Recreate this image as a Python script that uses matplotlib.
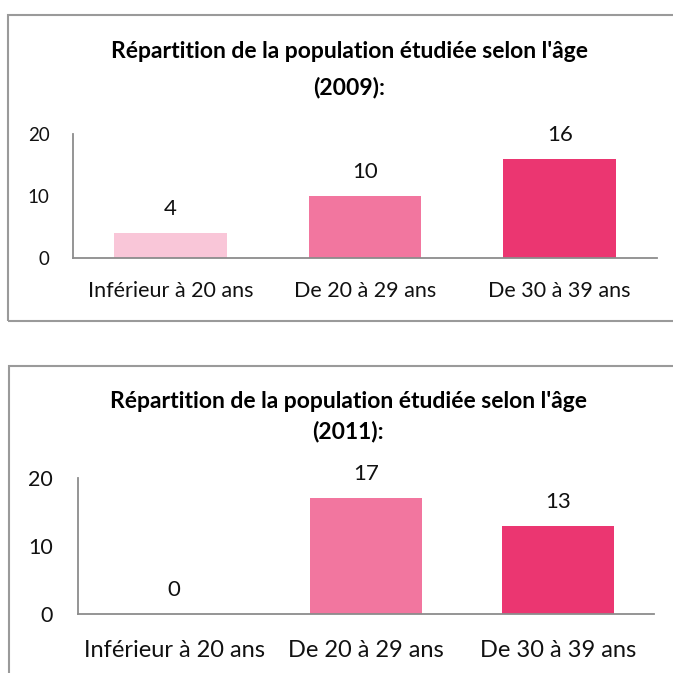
import matplotlib
matplotlib.use("Agg")
import matplotlib.pyplot as plt
from matplotlib.patches import Rectangle

categories = ["Inférieur à 20 ans", "De 20 à 29 ans", "De 30 à 39 ans"]
values_2009 = [4, 10, 16]
values_2011 = [0, 17, 13]
colors = ["#F9C6D8", "#F2769F", "#EB3671"]
titles = ["Répartition de la population étudiée selon l'âge", "(2009):", "(2011):"]
yticks = [0, 10, 20]

W = H = 673
plt.rcParams['font.family'] = ['Lato', 'DejaVu Sans']
fig = plt.figure(figsize=(W / 100, H / 100), dpi=100)


def px_axes(left, top, right, bottom):
    return fig.add_axes([left / W, 1 - bottom / H, (right - left) / W, (bottom - top) / H])


def chart(ax, values, catsize, valsize, ticksize, ypad, xpad):
    x = range(len(categories))
    ax.bar(x, values, width=0.58, color=colors)
    ax.set_xlim(-0.5, len(categories) - 0.5)
    ax.set_ylim(0, 20)
    ax.set_yticks(yticks)
    ax.set_xticks(list(x))
    ax.set_xticklabels(categories, fontsize=catsize, color="#111111")
    ax.tick_params(axis="y", length=0, pad=ypad, labelsize=ticksize, labelcolor="#111111")
    ax.tick_params(axis="x", length=0, pad=xpad)
    for s in ["top", "right"]:
        ax.spines[s].set_visible(False)
    for s in ["left", "bottom"]:
        ax.spines[s].set_color("#8c8c8c")
        ax.spines[s].set_linewidth(1.3)
    for i, v in zip(x, values):
        ax.annotate(str(v), (i, v), xytext=(0, 24), textcoords="offset pixels",
                    ha="center", va="center", fontsize=valsize, color="#111111")


# frames
fig.add_artist(Rectangle((8 / W, 1 - 321 / H), 700 / W, 306 / H, transform=fig.transFigure,
                         fill=False, edgecolor="#9a9a9a", linewidth=1.5))
fig.add_artist(Rectangle((9 / W, -0.1), 700 / W, 1 - 366 / H + 0.1, transform=fig.transFigure,
                         fill=False, edgecolor="#9a9a9a", linewidth=1.5))

ax1 = px_axes(73, 134, 657, 258)
chart(ax1, values_2009, 15.5, 16, 13.5, 17, 16.5)
fig.text(349 / W, 1 - 52 / H, titles[0], ha="center", va="center", fontsize=16.5, fontweight="bold")
fig.text(349 / W, 1 - 87 / H, titles[1], ha="center", va="center", fontsize=16.5, fontweight="bold")

ax2 = px_axes(78, 478, 654, 614)
chart(ax2, values_2011, 17, 16, 15.5, 18, 19)
fig.text(348 / W, 1 - 402 / H, titles[0], ha="center", va="center", fontsize=16.5, fontweight="bold")
fig.text(348 / W, 1 - 432 / H, titles[2], ha="center", va="center", fontsize=16.5, fontweight="bold")

fig.savefig("out.png", dpi=100)
